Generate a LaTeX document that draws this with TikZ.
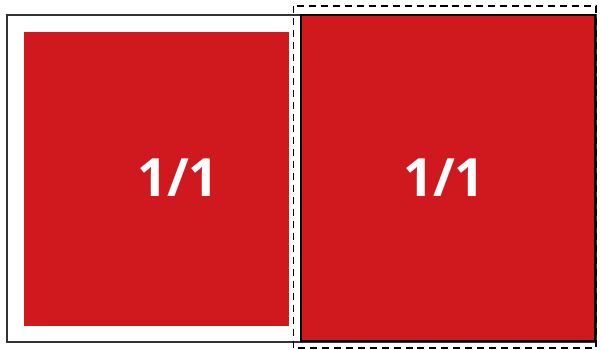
\documentclass[tikz,border=0pt]{standalone}
\usepackage{xcolor}
\usepackage{fontspec}
\setmainfont{Open Sans}
\usepackage{tikz}
\definecolor{boxred}{RGB}{207,25,30}

\begin{document}
\begin{tikzpicture}[x=0.02cm,y=-0.02cm]
\useasboundingbox (0,0) rectangle (601,350);
\draw[line width=0.6pt, black!80] (7,15) rectangle (596,342);
\fill[boxred] (24,32) rectangle (289,326);
\filldraw[fill=boxred, line width=0.8pt] (301,15) rectangle (595,341);
\draw[dash pattern=on 4pt off 2.8pt, line width=0.6pt] (293.5,6) rectangle (596,348);
\node[text=white, font=\bfseries\fontsize{30}{36}\selectfont] (leftlabel) at (178,178) {1/1};
\node[text=white, font=\bfseries\fontsize{30}{36}\selectfont] (rightlabel) at (444,178) {1/1};
\end{tikzpicture}
\end{document}
